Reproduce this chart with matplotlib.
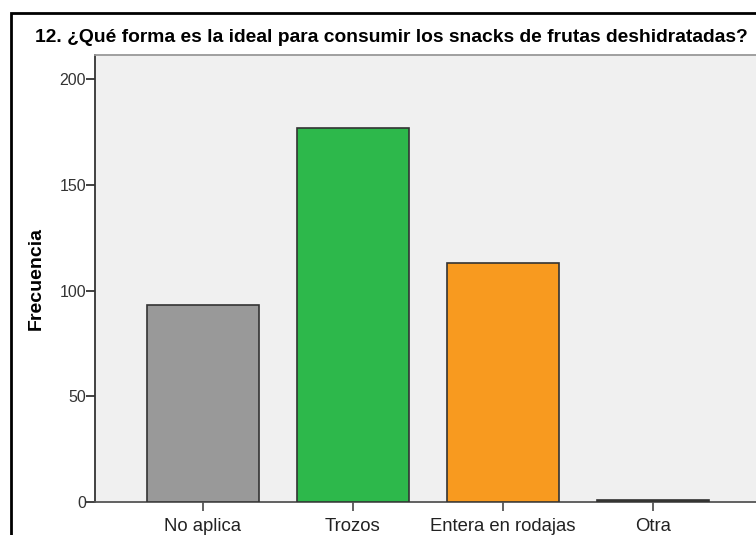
import matplotlib.pyplot as plt
from matplotlib.patches import Rectangle

plt.rcParams['font.family'] = ['Liberation Sans', 'DejaVu Sans']

categorias = ['No aplica', 'Trozos', 'Entera en rodajas', 'Otra']
frecuencias = [93, 177, 113, 1]
colores = ['#999999', '#2db84b', '#f89a1f', '#3a3a30']
yticks = [0, 50, 100, 150, 200]

fig = plt.figure(figsize=(7.56, 5.35), dpi=100)
ax = fig.add_axes([95 / 756, 33 / 535, 666 / 756, 447 / 535])
ax.set_facecolor('#f0f0f0')

x = list(range(len(categorias)))
ax.bar(x, frecuencias, width=0.75, color=colores, edgecolor='#333333', linewidth=1.2, zorder=3)

ax.set_xlim(-0.72, 3.72)
ax.set_ylim(0, 211.5)
ax.set_xticks(x)
ax.set_xticklabels(categorias, fontsize=13.3, color='#222222')
ax.set_yticks(yticks)
ax.set_yticklabels(yticks, fontsize=11.5, color='#333333')
ax.tick_params(axis='y', length=6.5, width=1.3, color='#333333', pad=0)
ax.tick_params(axis='x', length=6.5, width=1.3, color='#555555', pad=5)

ax.spines['left'].set_color('#333333')
ax.spines['left'].set_linewidth(1.3)
ax.spines['bottom'].set_color('#555555')
ax.spines['bottom'].set_linewidth(1.3)
ax.spines['top'].set_color('#999999')
ax.spines['top'].set_linewidth(1.3)
ax.spines['right'].set_visible(False)

ax.set_ylabel('Frecuencia', fontsize=14, fontweight='bold')
ax.yaxis.set_label_coords(-50 / 666, 0.5)

fig.text(35 / 756, 1 - 37.5 / 535,
         '12. ¿Qué forma es la ideal para consumir los snacks de frutas deshidratadas?',
         fontsize=13.9, fontweight='bold', ha='left', va='center')

# marco exterior
fig.patches.append(Rectangle((11 / 756, -0.1), 1.2, (535 - 13) / 535 + 0.1,
                             transform=fig.transFigure, fill=False,
                             edgecolor='black', linewidth=2))

fig.savefig('out.png', dpi=100)
